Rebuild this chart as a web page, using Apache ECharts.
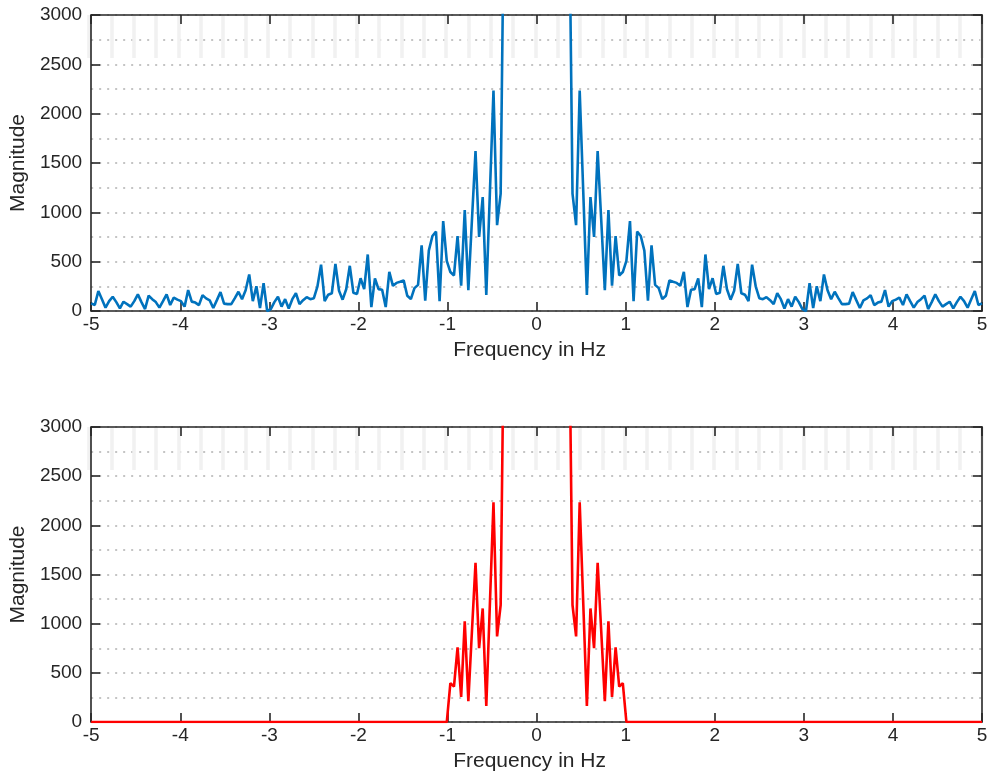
<!DOCTYPE html>
<html>
<head>
<meta charset="utf-8">
<script src="https://cdn.jsdelivr.net/npm/echarts@6/dist/echarts.min.js"></script>
<style>
html,body{margin:0;padding:0;background:#ffffff;}
#chart{width:995px;height:778px;}
</style>
</head>
<body>
<div id="chart"></div>
<script>
// ---- data ----
const sampleRate = 10;      // Hz
const fftLength = 248;      // bins per sampleRate
const binIndex = [];
for (let k = -124; k <= 124; k++) binIndex.push(k);
const frequency = binIndex.map(k => k * sampleRate / fftLength);

// magnitude of the spectrum (|X(f)|), bins -124 .. 124 (values above 3000 are clipped by the axis)
const magnitude = [
  78, 61, 202, 120, 34, 100, 145, 90, 27, 94, 70, 44, 100, 168, 90, 20, 155, 120, 90, 34, 100, 168, 61, 135, 115,
  100, 44, 212, 95, 85, 60, 160, 128, 108, 30, 110, 192, 75, 70, 70, 130, 195, 120, 210, 370, 100, 250, 30, 283, 0,
  20, 90, 145, 45, 120, 25, 120, 180, 70, 110, 140, 120, 130, 250, 470, 100, 165, 180, 478, 205, 115, 220, 458, 185, 172,
  332, 222, 573, 40, 330, 222, 216, 40, 397, 255, 285, 296, 310, 155, 121, 232, 265, 665, 105, 612, 760, 805, 100, 912, 508,
  395, 360, 760, 256, 1023, 212, 920, 1620, 750, 1155, 162, 1200, 2235, 870, 1190, 4400, 5000, 6000, 7000, 8000, 9000, 10000, 12000, 15000,
  20000,
  15000, 12000, 10000, 9000, 8000, 7000, 6000, 5000, 4400, 1190, 870, 2235, 1200, 162, 1155, 750, 1620, 920, 212, 1023, 256, 760, 360, 395,
  508, 912, 100, 805, 760, 612, 105, 665, 265, 232, 121, 155, 310, 296, 285, 255, 397, 40, 216, 222, 330, 40, 573, 222, 332,
  172, 185, 458, 220, 115, 205, 478, 180, 165, 100, 470, 250, 130, 120, 140, 110, 70, 180, 120, 25, 120, 45, 145, 90, 20,
  0, 283, 30, 250, 100, 370, 210, 120, 195, 130, 70, 70, 75, 192, 110, 30, 108, 128, 160, 60, 85, 95, 212, 44, 100,
  115, 135, 61, 168, 100, 34, 90, 120, 155, 20, 90, 168, 100, 44, 70, 94, 27, 90, 145, 100, 34, 120, 202, 61, 78
];

// magnitude after the ideal low-pass filter (|f| < 1 Hz), bins -124 .. 124
const filteredMagnitude = [
  0, 0, 0, 0, 0, 0, 0, 0, 0, 0, 0, 0, 0, 0, 0, 0, 0, 0, 0, 0, 0, 0, 0, 0, 0,
  0, 0, 0, 0, 0, 0, 0, 0, 0, 0, 0, 0, 0, 0, 0, 0, 0, 0, 0, 0, 0, 0, 0, 0, 0,
  0, 0, 0, 0, 0, 0, 0, 0, 0, 0, 0, 0, 0, 0, 0, 0, 0, 0, 0, 0, 0, 0, 0, 0, 0,
  0, 0, 0, 0, 0, 0, 0, 0, 0, 0, 0, 0, 0, 0, 0, 0, 0, 0, 0, 0, 0, 0, 0, 0, 0,
  395, 360, 760, 256, 1023, 212, 920, 1620, 750, 1155, 162, 1200, 2235, 870, 1190, 4400, 5000, 6000, 7000, 8000, 9000, 10000, 12000, 15000,
  20000,
  15000, 12000, 10000, 9000, 8000, 7000, 6000, 5000, 4400, 1190, 870, 2235, 1200, 162, 1155, 750, 1620, 920, 212, 1023, 256, 760, 360, 395,
  0, 0, 0, 0, 0, 0, 0, 0, 0, 0, 0, 0, 0, 0, 0, 0, 0, 0, 0, 0, 0, 0, 0, 0, 0,
  0, 0, 0, 0, 0, 0, 0, 0, 0, 0, 0, 0, 0, 0, 0, 0, 0, 0, 0, 0, 0, 0, 0, 0, 0,
  0, 0, 0, 0, 0, 0, 0, 0, 0, 0, 0, 0, 0, 0, 0, 0, 0, 0, 0, 0, 0, 0, 0, 0, 0,
  0, 0, 0, 0, 0, 0, 0, 0, 0, 0, 0, 0, 0, 0, 0, 0, 0, 0, 0, 0, 0, 0, 0, 0, 0
];

const xRange = { min: -5, max: 5, interval: 1 };
const yRange = { min: 0, max: 3000, interval: 500 };
const xLabel = 'Frequency in Hz';
const yLabel = 'Magnitude';

// ---- chart ----
const FONT = "'Liberation Sans', Arial, Helvetica, sans-serif";
const AX = '#262626';
const axisLineStyle = { color: AX, width: 1.6 };
const dotted = { color: '#c4c4c4', width: 2, type: [2, 6] };
const plain = v => String(v);

function mainX(grid, name) {
  return {
    gridIndex: grid, type: 'value', position: 'bottom',
    min: xRange.min, max: xRange.max, interval: xRange.interval,
    axisLine: { show: true, onZero: false, lineStyle: axisLineStyle },
    axisTick: { show: true, inside: true, length: 9, lineStyle: axisLineStyle },
    axisLabel: { show: true, color: AX, fontSize: 19, fontFamily: FONT, margin: 4, formatter: plain },
    splitLine: { show: false },
    name: name, nameLocation: 'middle', nameGap: 29,
    nameTextStyle: { color: AX, fontSize: 21, fontFamily: FONT, padding: [0, 14, 0, 0] }
  };
}
function topX(grid) {
  return {
    gridIndex: grid, type: 'value', position: 'top',
    min: xRange.min, max: xRange.max, interval: xRange.interval,
    axisLine: { show: true, onZero: false, lineStyle: axisLineStyle },
    axisTick: { show: true, inside: true, length: 9, lineStyle: axisLineStyle },
    axisLabel: { show: false }, splitLine: { show: false }
  };
}
function barX(grid) {
  return {
    gridIndex: grid, type: 'value', min: xRange.min, max: xRange.max, interval: 0.25,
    axisLine: { show: false }, axisTick: { show: false }, axisLabel: { show: false },
    splitLine: { show: true, lineStyle: { color: '#f1f1f1', width: 3.5 } }
  };
}
function mainY(grid, name) {
  return {
    gridIndex: grid, type: 'value', position: 'left',
    min: yRange.min, max: yRange.max, interval: yRange.interval,
    axisLine: { show: true, onZero: false, lineStyle: axisLineStyle },
    axisTick: { show: true, inside: true, length: 9, lineStyle: axisLineStyle },
    axisLabel: { show: true, color: AX, fontSize: 19, fontFamily: FONT, margin: 9, formatter: plain },
    splitLine: { show: true, lineStyle: dotted },
    minorTick: { show: false, splitNumber: 2 },
    minorSplitLine: { show: true, lineStyle: dotted },
    name: name, nameLocation: 'middle', nameGap: 60, nameRotate: 90,
    nameTextStyle: { color: AX, fontSize: 21, fontFamily: FONT }
  };
}
function rightY(grid) {
  return {
    gridIndex: grid, type: 'value', position: 'right',
    min: yRange.min, max: yRange.max, interval: yRange.interval,
    axisLine: { show: true, onZero: false, lineStyle: axisLineStyle },
    axisTick: { show: true, inside: true, length: 9, lineStyle: axisLineStyle },
    axisLabel: { show: false }, splitLine: { show: false }
  };
}
function hiddenY(grid) {
  return { gridIndex: grid, type: 'value', min: 0, max: 1, show: false };
}

const chart = echarts.init(document.getElementById('chart'), null, { renderer: 'canvas' });
chart.setOption({
  animation: false,
  backgroundColor: '#ffffff',
  textStyle: { fontFamily: FONT },
  grid: [
    { left: 89, width: 893, top: 15, height: 296 },
    { left: 89, width: 893, top: 427, height: 295 },
    { left: 89, width: 893, top: 15, height: 43 },
    { left: 89, width: 893, top: 427, height: 43 }
  ],
  xAxis: [mainX(0, xLabel), topX(0), mainX(1, xLabel), topX(1), barX(2), barX(3)],
  yAxis: [mainY(0, yLabel), rightY(0), mainY(1, yLabel), rightY(1), hiddenY(2), hiddenY(3)],
  series: [
    {
      type: 'line', xAxisIndex: 0, yAxisIndex: 0,
      data: frequency.map((f, i) => [f, magnitude[i]]),
      showSymbol: false, symbol: 'none', clip: true,
      lineStyle: { color: '#0072BD', width: 2.6 }, itemStyle: { color: '#0072BD' }, z: 5
    },
    {
      type: 'line', xAxisIndex: 2, yAxisIndex: 2,
      data: frequency.map((f, i) => [f, filteredMagnitude[i]]),
      showSymbol: false, symbol: 'none', clip: true,
      lineStyle: { color: '#FF0000', width: 2.6 }, itemStyle: { color: '#FF0000' }, z: 5
    }
  ]
});
</script>
</body>
</html>
